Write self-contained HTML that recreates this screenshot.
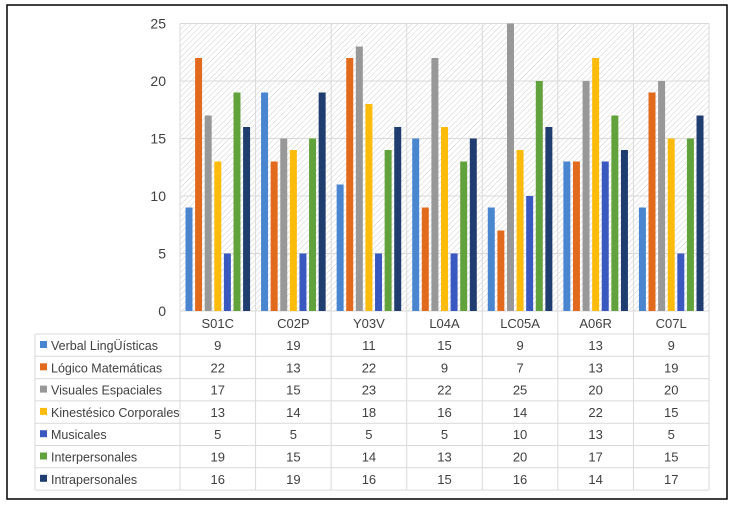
<!DOCTYPE html>
<html><head><meta charset="utf-8"><style>
body{margin:0;background:#fff;}
svg{display:block;font-family:"Liberation Sans",sans-serif;}
</style></head><body>
<svg id="c" width="737" height="506">
<defs><pattern id="hatch" width="4" height="4" patternUnits="userSpaceOnUse" patternTransform="rotate(45)"><rect width="4" height="4" fill="#fff"/><line x1="0" y1="0" x2="0" y2="4" stroke="#cfcfcf" stroke-width="1"/></pattern></defs>
<rect x="7" y="5" width="720" height="494" fill="none" stroke="#000" stroke-width="1.5"/>
<rect x="180" y="23.5" width="529" height="287.5" fill="url(#hatch)"/>
<g id="g"></g>
</svg>
<script>
const categories=["S01C","C02P","Y03V","L04A","LC05A","A06R","C07L"];
const seriesNames=["Verbal LingÜísticas","Lógico Matemáticas","Visuales Espaciales","Kinestésico Corporales","Musicales","Interpersonales","Intrapersonales"];
const colors=["#4a86d0","#e26a1c","#989898","#fdbb0b","#3a59c0","#62a23c","#1f3d6e"];
const verbal=[9,19,11,15,9,13,9];
const logico=[22,13,22,9,7,13,19];
const visuales=[17,15,23,22,25,20,20];
const kinest=[13,14,18,16,14,22,15];
const musicales=[5,5,5,5,10,13,5];
const inter=[19,15,14,13,20,17,15];
const intra=[16,19,16,15,16,14,17];
const series=[verbal,logico,visuales,kinest,musicales,inter,intra];
const yTicks=[0,5,10,15,20,25];
const NS="http://www.w3.org/2000/svg",g=document.getElementById('g');
const L=180,R=709,T=23.5,B=311,yMax=25;
const y=v=>B-(v/yMax)*(B-T);
const cw=(R-L)/categories.length;
const x=i=>L+i*cw;
function mk(t,a,txt){const e=document.createElementNS(NS,t);for(const k in a)e.setAttribute(k,a[k]);if(txt!=null)e.textContent=txt;g.appendChild(e);return e;}
yTicks.forEach(t=>{
 const l=mk('line',{x1:L,x2:R,y1:y(t),y2:y(t),stroke:'#d9d9d9'});
 
 
 const tx=mk('text',{x:166,y:y(t)+5,'text-anchor':'end','font-size':14,fill:'#404040'},t);
 
 
});
const rowH=22.3,tTop=311,hdrB=334,tL=35;
for(let i=0;i<=categories.length;i++){const l=mk('line',{x1:x(i),x2:x(i),y1:T,y2:490,stroke:'#d9d9d9'});
 
 }
mk('line',{x1:tL,x2:tL,y1:hdrB,y2:490,stroke:'#d9d9d9'});
for(let r=0;r<=7;r++){const yy=hdrB+r*rowH;mk('line',{x1:tL,x2:R,y1:yy,y2:yy,stroke:'#d9d9d9'});}
mk('line',{x1:L,x2:R,y1:tTop,y2:tTop,stroke:'#d9d9d9'});
const pitch=9.6,bw=7;
series.forEach((s,si)=>{
 s.forEach((v,ci)=>{
  const cx=x(ci)+cw/2+(si-3)*pitch;
  const b=mk('rect',{x:cx-bw/2,y:y(v),width:bw,height:B-y(v),fill:colors[si]});
  
  
  const tv=mk('text',{x:x(ci)+cw/2,y:hdrB+si*rowH+16,'text-anchor':'middle','font-size':13,fill:'#404040'},v);
  
  
 });
 const sw=mk('rect',{x:40,y:hdrB+si*rowH+7,width:7,height:7,fill:colors[si]});
 
 
 const lt=mk('text',{x:51,y:hdrB+si*rowH+16,'font-size':12.5,fill:'#404040'},seriesNames[si]);
 
 
});
categories.forEach((c,ci)=>{
 const t=mk('text',{x:x(ci)+cw/2,y:328,'text-anchor':'middle','font-size':13,fill:'#404040'},c);
 
 
});
</script>
</body></html>
